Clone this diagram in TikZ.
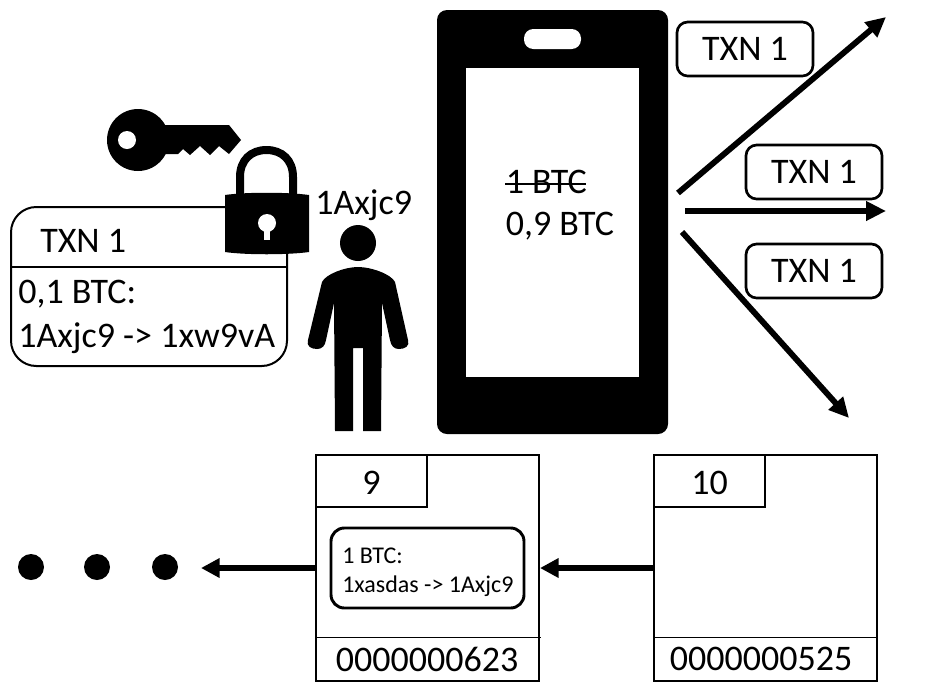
\documentclass[tikz,border=0pt]{standalone}
\usepackage{fontspec}
\setmainfont{Carlito}
\usetikzlibrary{arrows.meta, positioning}
\tikzset{
  bigtext/.style={font=\fontsize{27}{30}\selectfont, inner sep=0pt},
  smalltext/.style={font=\fontsize{18}{20}\selectfont, inner sep=0pt},
  txnbox/.style={draw, line width=2pt, rounded corners=8pt, inner sep=0pt, minimum width=102pt, minimum height=40.5pt, bigtext},
  blockbox/.style={draw, line width=1.5pt, inner sep=0pt, minimum width=167.25pt, minimum height=169.5pt},
  numbox/.style={draw, line width=1.5pt, inner sep=0pt, minimum width=83.25pt, minimum height=39pt, bigtext},
  dotnode/.style={circle, fill, inner sep=0pt, minimum size=19.5pt},
  holenode/.style={circle, fill=white, inner sep=0pt, minimum size=13.5pt},
  flow/.style={-{Triangle[length=14pt, width=14pt]}, line width=4pt},
  sendflow/.style={-{Triangle[length=15pt, width=14pt]}, line width=4.4pt}
}
\begin{document}
\begin{tikzpicture}[x=0.75pt, y=-0.75pt]
        \useasboundingbox (0,0) rectangle (944,693);

        \node[draw, line width=1.5pt, rounded corners=19pt, inner sep=0pt, minimum width=207pt, minimum height=119.25pt] (txnbig) at (149,286.5) {};
        \draw[line width=1.5pt] (txnbig.west |- 0,267) -- (txnbig.east |- 0,267);
        \node[bigtext, anchor=base west] (txnbigtitle) at (40,252) {TXN 1};
        \node[bigtext, anchor=base west] (txnbigamount) at (18,303) {0,1 BTC:};
        \node[bigtext, anchor=base west] (txnbigaddr) at (18,347) {1Axjc9 -> 1xw9vA};

        \node[circle, fill, inner sep=0pt, minimum size=46.5pt] (keyhead) at (138,140) {};
        \fill (160,125) -- (229,125) -- (241,140) -- (229,154) -- (219,146) -- (210,155) -- (200,146) -- (190,155) -- (183,149) -- (178,154) -- (160,154) -- cycle;
        \node[holenode] (keyhole) at (127,140) {};

        \draw[line width=6pt] (240,197) -- (240,177) .. controls (240,160) and (251,150) .. (266.5,150) .. controls (282,150) and (293,160) .. (293,177) -- (293,197);
        \fill (225,195) .. controls (245,192) and (288,192) .. (309,195) -- (309,252) .. controls (288,255) and (245,255) .. (225,252) -- cycle;
        \node[holenode] (lockhole) at (267,223) {};
        \fill[white] (264,225) rectangle (270,240);

        \node[bigtext, anchor=base west] (owner) at (315,214) {1Axjc9};
        \node[circle, fill, inner sep=0pt, minimum size=27pt] (personhead) at (358,243) {};
        \fill (322,282) .. controls (326,274) and (345,267) .. (358,267) .. controls (371,267) and (391,274) .. (395,282)
          -- (408,340) .. controls (410,346) and (405,349) .. (399,349) .. controls (394,349) and (391,346) .. (390,340)
          -- (382,303) -- (381,431) -- (363,431) -- (363,348) -- (353,348) -- (353,431) -- (335,431) -- (334,303)
          -- (326,340) .. controls (325,346) and (322,349) .. (317,349) .. controls (311,349) and (306,346) .. (308,340) -- cycle;

        \node[fill, rounded corners=7.5pt, inner sep=0pt, minimum width=173.25pt, minimum height=318pt] (phone) at (552.5,222) {};
        \node[fill=white, inner sep=0pt, minimum width=129.75pt, minimum height=231.75pt] (screen) at (552.5,222.5) {};
        \node[fill=white, rounded corners=7pt, inner sep=0pt, minimum width=42.75pt, minimum height=15pt] (speaker) at (552.5,39) {};
        \node[bigtext, anchor=base west] (oldbalance) at (505.5,193) {1 BTC};
        \draw[line width=1.3pt] (505,184) -- (586,184);
        \node[bigtext, anchor=base west] (newbalance) at (505.5,235) {0,9 BTC};

        \node[txnbox] (sendone) at (745,49) {TXN 1};
        \node[txnbox] (sendtwo) at (814,172) {TXN 1};
        \node[txnbox] (sendthree) at (814,271) {TXN 1};

        \coordinate (startone) at (678,193);
        \coordinate (endone) at (886,17);
        \coordinate (starttwo) at (685,211);
        \coordinate (endtwo) at (886,211);
        \coordinate (startthree) at (682,232);
        \coordinate (endthree) at (849,418);
        \draw[sendflow] (startone) to (endone);
        \draw[sendflow] (starttwo) to (endtwo);
        \draw[sendflow] (startthree) to (endthree);

        \node[blockbox] (blocknine) at (427.5,568) {};
        \node[numbox] (numnine) at (371.5,481) {\raisebox{-1.5pt}[\height][0pt]{9}};
        \draw (316,637) -- (541,637);
        \node[bigtext] (hashnine) at (427,659) {0000000623};
        \node[draw, line width=2.2pt, rounded corners=10pt, inner sep=0pt, minimum width=144.75pt, minimum height=60pt] (coinbase) at (427.5,568) {};
        \node[smalltext, anchor=base west] (coinamount) at (342,563) {1 BTC:};
        \node[smalltext, anchor=base west] (coinaddr) at (342,592) {1xasdas -> 1Axjc9};

        \node[blockbox] (blockten) at (765.5,568) {};
        \node[numbox] (numten) at (709.5,481) {\raisebox{-1.5pt}[\height][0pt]{10}};
        \draw (654,637) -- (877,637);
        \node[bigtext] (hashten) at (761,659) {0000000525};

        \node[dotnode] (dotone) at (31,567) {};
        \node[dotnode] (dottwo) at (97,567) {};
        \node[dotnode] (dotthree) at (165,567) {};
        \coordinate (dotend) at (201,568);

        \draw[flow] (blockten) to (blocknine);
        \draw[flow] (blocknine) to (dotend);
\end{tikzpicture}
\end{document}
